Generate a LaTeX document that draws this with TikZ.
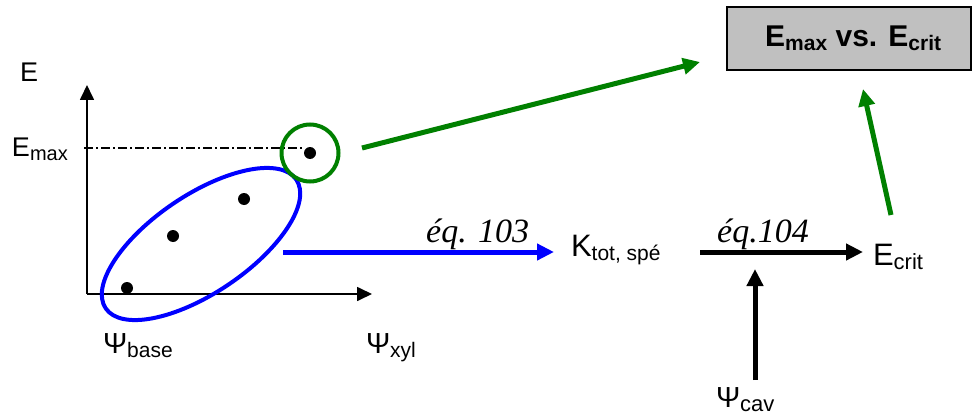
\documentclass[tikz,border=0pt]{standalone}
\usepackage{fontspec}
\setmainfont{Liberation Sans}
\newfontfamily\timesf{Liberation Serif}
\usetikzlibrary{arrows.meta,shapes.geometric}
\definecolor{dkgreen}{RGB}{0,128,0}
\definecolor{boxgray}{RGB}{192,192,192}
\newcommand{\mysub}[2][20]{\raisebox{-4pt}{\fontsize{#1}{#1}\selectfont #2}}
\tikzset{
  lab/.style={inner sep=0pt, outer sep=0pt, anchor=base west, font=\fontsize{27}{30}\selectfont},
  labbig/.style={lab, font=\fontsize{31}{34}\selectfont},
  eqlab/.style={inner sep=0pt, anchor=base west, font=\timesf\itshape\fontsize{34}{36}\selectfont},
  axisline/.style={line width=1.7pt, -{Triangle[length=15pt,width=14pt]}},
  dotpt/.style={circle, fill=black, minimum size=12pt, inner sep=0pt},
  thickarrow/.style={line width=5pt, -{Triangle[length=17pt,width=16pt]}},
}
\begin{document}
\begin{tikzpicture}[x=1pt,y=-1pt]
\useasboundingbox (0,0) rectangle (973,417);
% axes
\coordinate (o) at (87,294);
\coordinate (ytop) at (87,85);
\coordinate (xend) at (372,294);
\draw[axisline] (o) -- (ytop);
\draw[axisline] (o) -- (xend);
% labels of the plot
\node[lab] (ylab) at (20,82) {E};
\node[lab] (emaxlab) at (12,156) {E\mysub{max}};
\node[lab, font=\fontsize{29}{30}\selectfont] (psibase) at (103,353) {Ψ\mysub[21]{base}};
\node[lab, font=\fontsize{29}{30}\selectfont] (psixyl) at (366,353) {Ψ\mysub[21]{xyl}};
% dash-dot line
\coordinate (dd1) at (84,148);
\coordinate (dd2) at (303,148);
\draw[line width=1.2pt, dash pattern=on 9pt off 3pt on 2pt off 3pt] (dd1) -- (dd2);
% points
\node[dotpt] (p1) at (127,288) {};
\node[dotpt] (p2) at (173,236) {};
\node[dotpt] (p3) at (244,199) {};
\node[dotpt] (p4) at (310,153) {};
% groups
\node[ellipse, draw=blue, line width=4pt, minimum width=230pt, minimum height=98pt, inner sep=0pt, rotate=34] (grp) at (201,244) {};
\node[circle, draw=dkgreen, line width=4pt, minimum size=57pt, inner sep=0pt] (gc) at (310,153) {};
% blue arrow
\coordinate (bs) at (283,252);
\coordinate (be) at (554,252);
\draw[thickarrow, blue] (bs) -- (be);
\node[eqlab] (eq103) at (426,242) {éq. 103};
\node[labbig] (ktot) at (571,256) {K\mysub[21]{tot, spé}};
% black arrow
\coordinate (ks) at (700,252);
\coordinate (ke) at (863,252);
\draw[thickarrow, black] (ks) -- (ke);
\node[eqlab] (eq104) at (717,242) {éq.104};
\node[labbig] (ecrit) at (873,265) {E\mysub[22]{crit}};
% up arrow
\coordinate (us) at (755,380);
\coordinate (ue) at (755,269);
\draw[thickarrow, black] (us) -- (ue);
\node[lab, font=\fontsize{29}{30}\selectfont] (psicav) at (716,407) {Ψ\mysub[22]{cav}};
% box
\node[draw=black, fill=boxgray, line width=2pt, minimum width=244pt, minimum height=63pt, inner sep=0pt] (box) at (849,38.5) {};
\node[inner sep=0pt, anchor=base west, font=\bfseries\fontsize{30}{32}\selectfont] (boxtxt) at (765,47) {E\mysub[21]{\bfseries max} vs. E\mysub[21]{\bfseries crit}};
% green arrows
\coordinate (g1s) at (362,148);
\coordinate (g1e) at (700,62);
\draw[thickarrow, dkgreen] (g1s) -- (g1e);
\coordinate (g2s) at (891,215);
\coordinate (g2e) at (863,89);
\draw[thickarrow, dkgreen] (g2s) -- (g2e);
\end{tikzpicture}
\end{document}
